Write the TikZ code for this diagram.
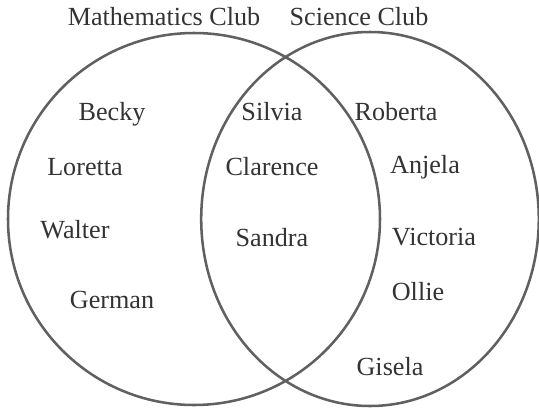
\documentclass[tikz,border=0pt]{standalone}
\usepackage{fontspec}
\setmainfont{Liberation Serif}
\usepackage{xcolor}
\usepackage{tikz}
\usetikzlibrary{positioning}

\begin{document}
\begin{tikzpicture}[
  ring/.style={draw=gray!75!black, line width=1.8pt},
  member/.style={anchor=base, text=gray!40!black, font=\fontsize{18.6}{20}\selectfont},
  club/.style={member},
]
  \useasboundingbox (0,0) rectangle (13.475,10.175);

  % the two clubs
  \draw[ring] (4.85,4.70) circle (4.65);
  \draw[ring] (9.25,4.70) ellipse (4.22 and 4.675);

  % club titles
  \node[club] (maths) at (4.1,9.55) {Mathematics Club};
  \node[club] (science) at (8.975,9.55) {Science Club};

  % members
  \foreach \x/\y/\name in {2.8/7.175/Becky, 2.125/5.8/Loretta, 1.875/4.225/Walter, 2.8/2.475/German,
                           6.8/7.175/Silvia, 6.8/5.8/Clarence, 6.8/4.025/Sandra,
                           9.9/7.175/Roberta, 10.625/5.85/Anjela, 10.85/4.05/Victoria,
                           10.45/2.675/Ollie, 9.75/0.8/Gisela} {
    \node[member] (\name) at (\x,\y) {\name};
  }
\end{tikzpicture}
\end{document}
